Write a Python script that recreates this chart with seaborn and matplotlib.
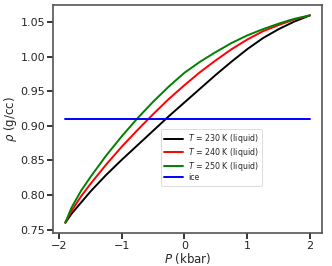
import numpy as np
import pandas as pd
import matplotlib
matplotlib.use("Agg")
import matplotlib.pyplot as plt
import seaborn as sns

# pressure grid (kbar) and densities (g/cc)
pressure = [-1.9, -1.8, -1.65, -1.5, -1.25, -1.0, -0.75, -0.5, -0.25,
            0.0, 0.25, 0.5, 0.75, 1.0, 1.25, 1.5, 1.75, 2.0]
rho_230 = [0.760, 0.773, 0.789, 0.805, 0.829, 0.851, 0.872, 0.893, 0.914,
           0.934, 0.954, 0.974, 0.993, 1.011, 1.027, 1.040, 1.051, 1.060]
rho_240 = [0.760, 0.777, 0.798, 0.816, 0.844, 0.870, 0.894, 0.917, 0.939,
           0.959, 0.978, 0.995, 1.011, 1.025, 1.037, 1.046, 1.054, 1.060]
rho_250 = [0.760, 0.782, 0.806, 0.826, 0.857, 0.885, 0.911, 0.935, 0.957,
           0.977, 0.993, 1.007, 1.020, 1.031, 1.040, 1.048, 1.055, 1.060]
ice_p = [-1.9, 2.0]
ice_rho = [0.910, 0.910]

labels = ["$T$ = 230 K (liquid)", "$T$ = 240 K (liquid)", "$T$ = 250 K (liquid)", "ice"]
colors = ["black", "red", "green", "blue"]

df = pd.concat([
    pd.DataFrame({"P": pressure, "rho": rho_230, "series": labels[0]}),
    pd.DataFrame({"P": pressure, "rho": rho_240, "series": labels[1]}),
    pd.DataFrame({"P": pressure, "rho": rho_250, "series": labels[2]}),
    pd.DataFrame({"P": ice_p, "rho": ice_rho, "series": labels[3]}),
], ignore_index=True)

sns.set_style("ticks")
plt.rcParams["font.family"] = ["DejaVu Sans"]

fig = plt.figure(figsize=(3.32, 2.66), dpi=100)
ax = fig.add_axes([0.16, 0.124, 0.81, 0.857])
sns.lineplot(data=df, x="P", y="rho", hue="series", hue_order=labels,
             palette=colors, linewidth=1.4, ax=ax, sort=False)

ax.set_xticks([-2, -1, 0, 1, 2])
ax.set_yticks([0.75, 0.80, 0.85, 0.90, 0.95, 1.00, 1.05])
ax.tick_params(labelsize=8, length=4, width=1.3, pad=1.5)
ax.set_xlabel("$P$ (kbar)", fontsize=8.5, labelpad=0)
ax.set_ylabel(r"$\rho$ (g/cc)", fontsize=8.5, labelpad=1)
for s in ax.spines.values():
    s.set_color("#555555")
    s.set_linewidth(1.2)

leg = ax.legend(loc="lower left", bbox_to_anchor=(0.385, 0.19), fontsize=5.7,
                frameon=True, handlelength=2.4, borderpad=0.45, labelspacing=0.08,
                handletextpad=0.6)
leg.get_frame().set_linewidth(0.6)

fig.savefig("out.png", dpi=100)
